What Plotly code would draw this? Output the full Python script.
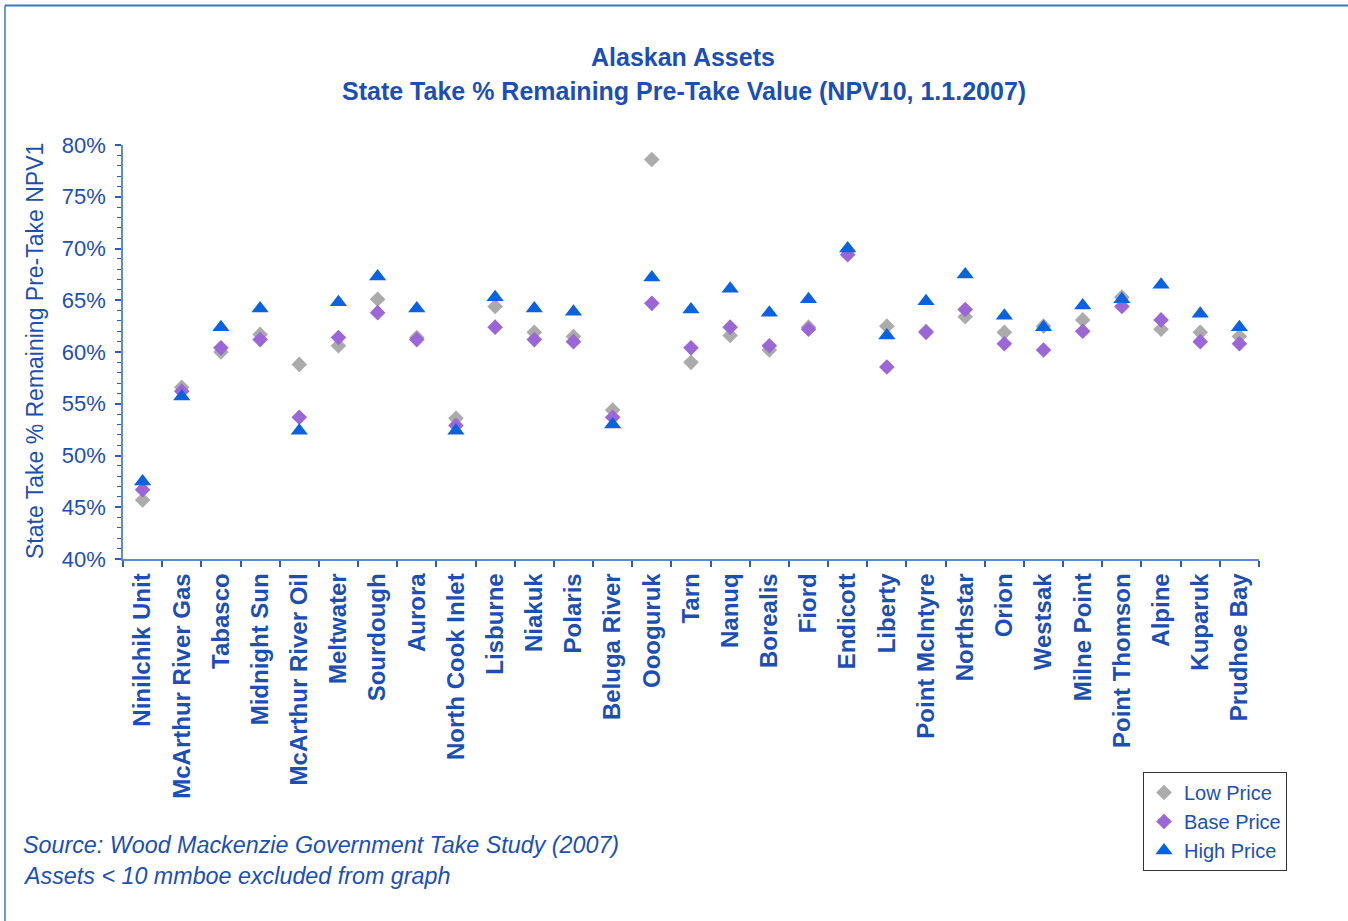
import plotly.graph_objects as go

# Assets in display order
assets = [
    "Ninilchik Unit", "McArthur River Gas", "Tabasco", "Midnight Sun",
    "McArthur River Oil", "Meltwater", "Sourdough", "Aurora", "North Cook Inlet",
    "Lisburne", "Niakuk", "Polaris", "Beluga River", "Oooguruk", "Tarn", "Nanuq",
    "Borealis", "Fiord", "Endicott", "Liberty", "Point McIntyre", "Northstar",
    "Orion", "Westsak", "Milne Point", "Point Thomson", "Alpine", "Kuparuk",
    "Prudhoe Bay",
]

# State take as % of remaining pre-take value, by price scenario
low_price = [
    45.7, 56.6, 60.0, 61.7, 58.8, 60.6, 65.1, 61.4, 53.6, 64.4,
    61.9, 61.5, 54.4, 78.6, 59.0, 61.6, 60.2, 62.4, 69.8, 62.5,
    62.0, 63.4, 61.9, 62.5, 63.1, 65.3, 62.2, 61.9, 61.5,
]
base_price = [
    46.7, 56.2, 60.4, 61.2, 53.7, 61.4, 63.8, 61.2, 52.9, 62.4,
    61.2, 61.0, 53.7, 64.7, 60.4, 62.4, 60.6, 62.2, 69.4, 58.55,
    61.9, 64.1, 60.8, 60.2, 62.0, 64.4, 63.1, 61.0, 60.8,
]
high_price = [
    47.5, 55.7, 62.4, 64.2, 52.4, 64.8, 67.3, 64.2, 52.4, 65.3,
    64.2, 63.9, 53.0, 67.2, 64.1, 66.1, 63.8, 65.1, 70.0, 61.6,
    64.9, 67.5, 63.5, 62.4, 64.5, 65.1, 66.5, 63.7, 62.4,
]

y_ticks = [40, 45, 50, 55, 60, 65, 70, 75, 80]
y_tick_labels = ["40%", "45%", "50%", "55%", "60%", "65%", "70%", "75%", "80%"]

W, H = 1348, 921
L, R, T, B = 123, 89, 145, 362
plot_w = W - L - R
plot_h = H - T - B

TEXT = "#1D4FB3"
AXIS = "#5B8BD6"
TICK = "#2A5CB8"
FONT = "Arial, Liberation Sans, sans-serif"


def px_x(px):
    return (px - L) / plot_w


def px_y(py):
    return (H - B - py) / plot_h


fig = go.Figure()
fig.add_trace(go.Scatter(
    x=assets, y=low_price, mode="markers", name="Low Price",
    marker=dict(symbol="diamond", size=12, color="#ABABAB"),
))
fig.add_trace(go.Scatter(
    x=assets, y=base_price, mode="markers", name="Base Price",
    marker=dict(symbol="diamond", size=12, color="#9B66D6"),
))
fig.add_trace(go.Scatter(
    x=assets, y=high_price, mode="markers", name="High Price",
    marker=dict(symbol="triangle-up", size=15, color="#0A62DE"),
))

fig.update_layout(
    width=W, height=H,
    margin=dict(l=L, r=R, t=T, b=B, autoexpand=False),
    paper_bgcolor="white", plot_bgcolor="white",
    font=dict(family=FONT, color=TEXT),
    showlegend=True,
    legend=dict(
        xref="container", yref="container",
        x=1143 / W, y=1 - 772 / H, xanchor="left", yanchor="top",
        bgcolor="white", bordercolor="#333333", borderwidth=1,
        font=dict(size=20, color=TEXT, family=FONT),
        itemwidth=30, tracegroupgap=0,
    ),
    xaxis=dict(
        type="category", range=[-0.5, len(assets) - 0.5],
        showline=True, linecolor=AXIS, linewidth=1.5,
        ticks="outside", tickson="boundaries", ticklen=6,
        tickcolor=TICK, tickwidth=1.5,
        tickangle=-90, showgrid=False, zeroline=False,
        tickfont=dict(size=24, family=FONT, color=TEXT, weight="bold"),
        ticklabelstandoff=3,
    ),
    yaxis=dict(
        range=[40, 80], tickmode="array", tickvals=y_ticks, ticktext=y_tick_labels,
        showline=True, linecolor=AXIS, linewidth=1.5,
        ticks="outside", ticklen=6, tickcolor=TICK, tickwidth=1.5,
        minor=dict(dtick=1, ticks="outside", ticklen=4, tickcolor=TICK,
                   tickwidth=1, showgrid=False),
        showgrid=False, zeroline=False,
        tickfont=dict(size=22, color=TEXT),
        ticklabelstandoff=5,
    ),
    annotations=[
        dict(text="<b>Alaskan Assets</b>", xref="paper", yref="paper",
             x=px_x(683), y=px_y(57), showarrow=False,
             font=dict(size=25, color=TEXT), xanchor="center", yanchor="middle"),
        dict(text="<b>State Take % Remaining Pre-Take Value (NPV10, 1.1.2007)</b>",
             xref="paper", yref="paper",
             x=px_x(684), y=px_y(91), showarrow=False,
             font=dict(size=25, color=TEXT), xanchor="center", yanchor="middle"),
        dict(text="State Take % Remaining Pre-Take NPV1", xref="paper", yref="paper",
             x=px_x(35), y=px_y(351), showarrow=False, textangle=-90,
             font=dict(size=23, color=TEXT), xanchor="center", yanchor="middle"),
        dict(text="<i>Source: Wood Mackenzie Government Take Study (2007)</i>",
             xref="paper", yref="paper",
             x=px_x(21), y=px_y(845), showarrow=False,
             font=dict(size=23.3, color=TEXT), xanchor="left", yanchor="middle"),
        dict(text="<i>Assets < 10 mmboe excluded from graph</i>",
             xref="paper", yref="paper",
             x=px_x(21), y=px_y(876), showarrow=False,
             font=dict(size=23.3, color=TEXT), xanchor="left", yanchor="middle"),
    ],
    shapes=[
        dict(type="line", xref="paper", yref="paper",
             x0=px_x(5), x1=px_x(W + 5), y0=px_y(5.5), y1=px_y(5.5),
             line=dict(color="#3F74C6", width=2)),
        dict(type="line", xref="paper", yref="paper",
             x0=px_x(5), x1=px_x(5), y0=px_y(5.5), y1=px_y(H + 5),
             line=dict(color="#3F74C6", width=1.5)),
    ],
)

fig.write_html("out.html")
